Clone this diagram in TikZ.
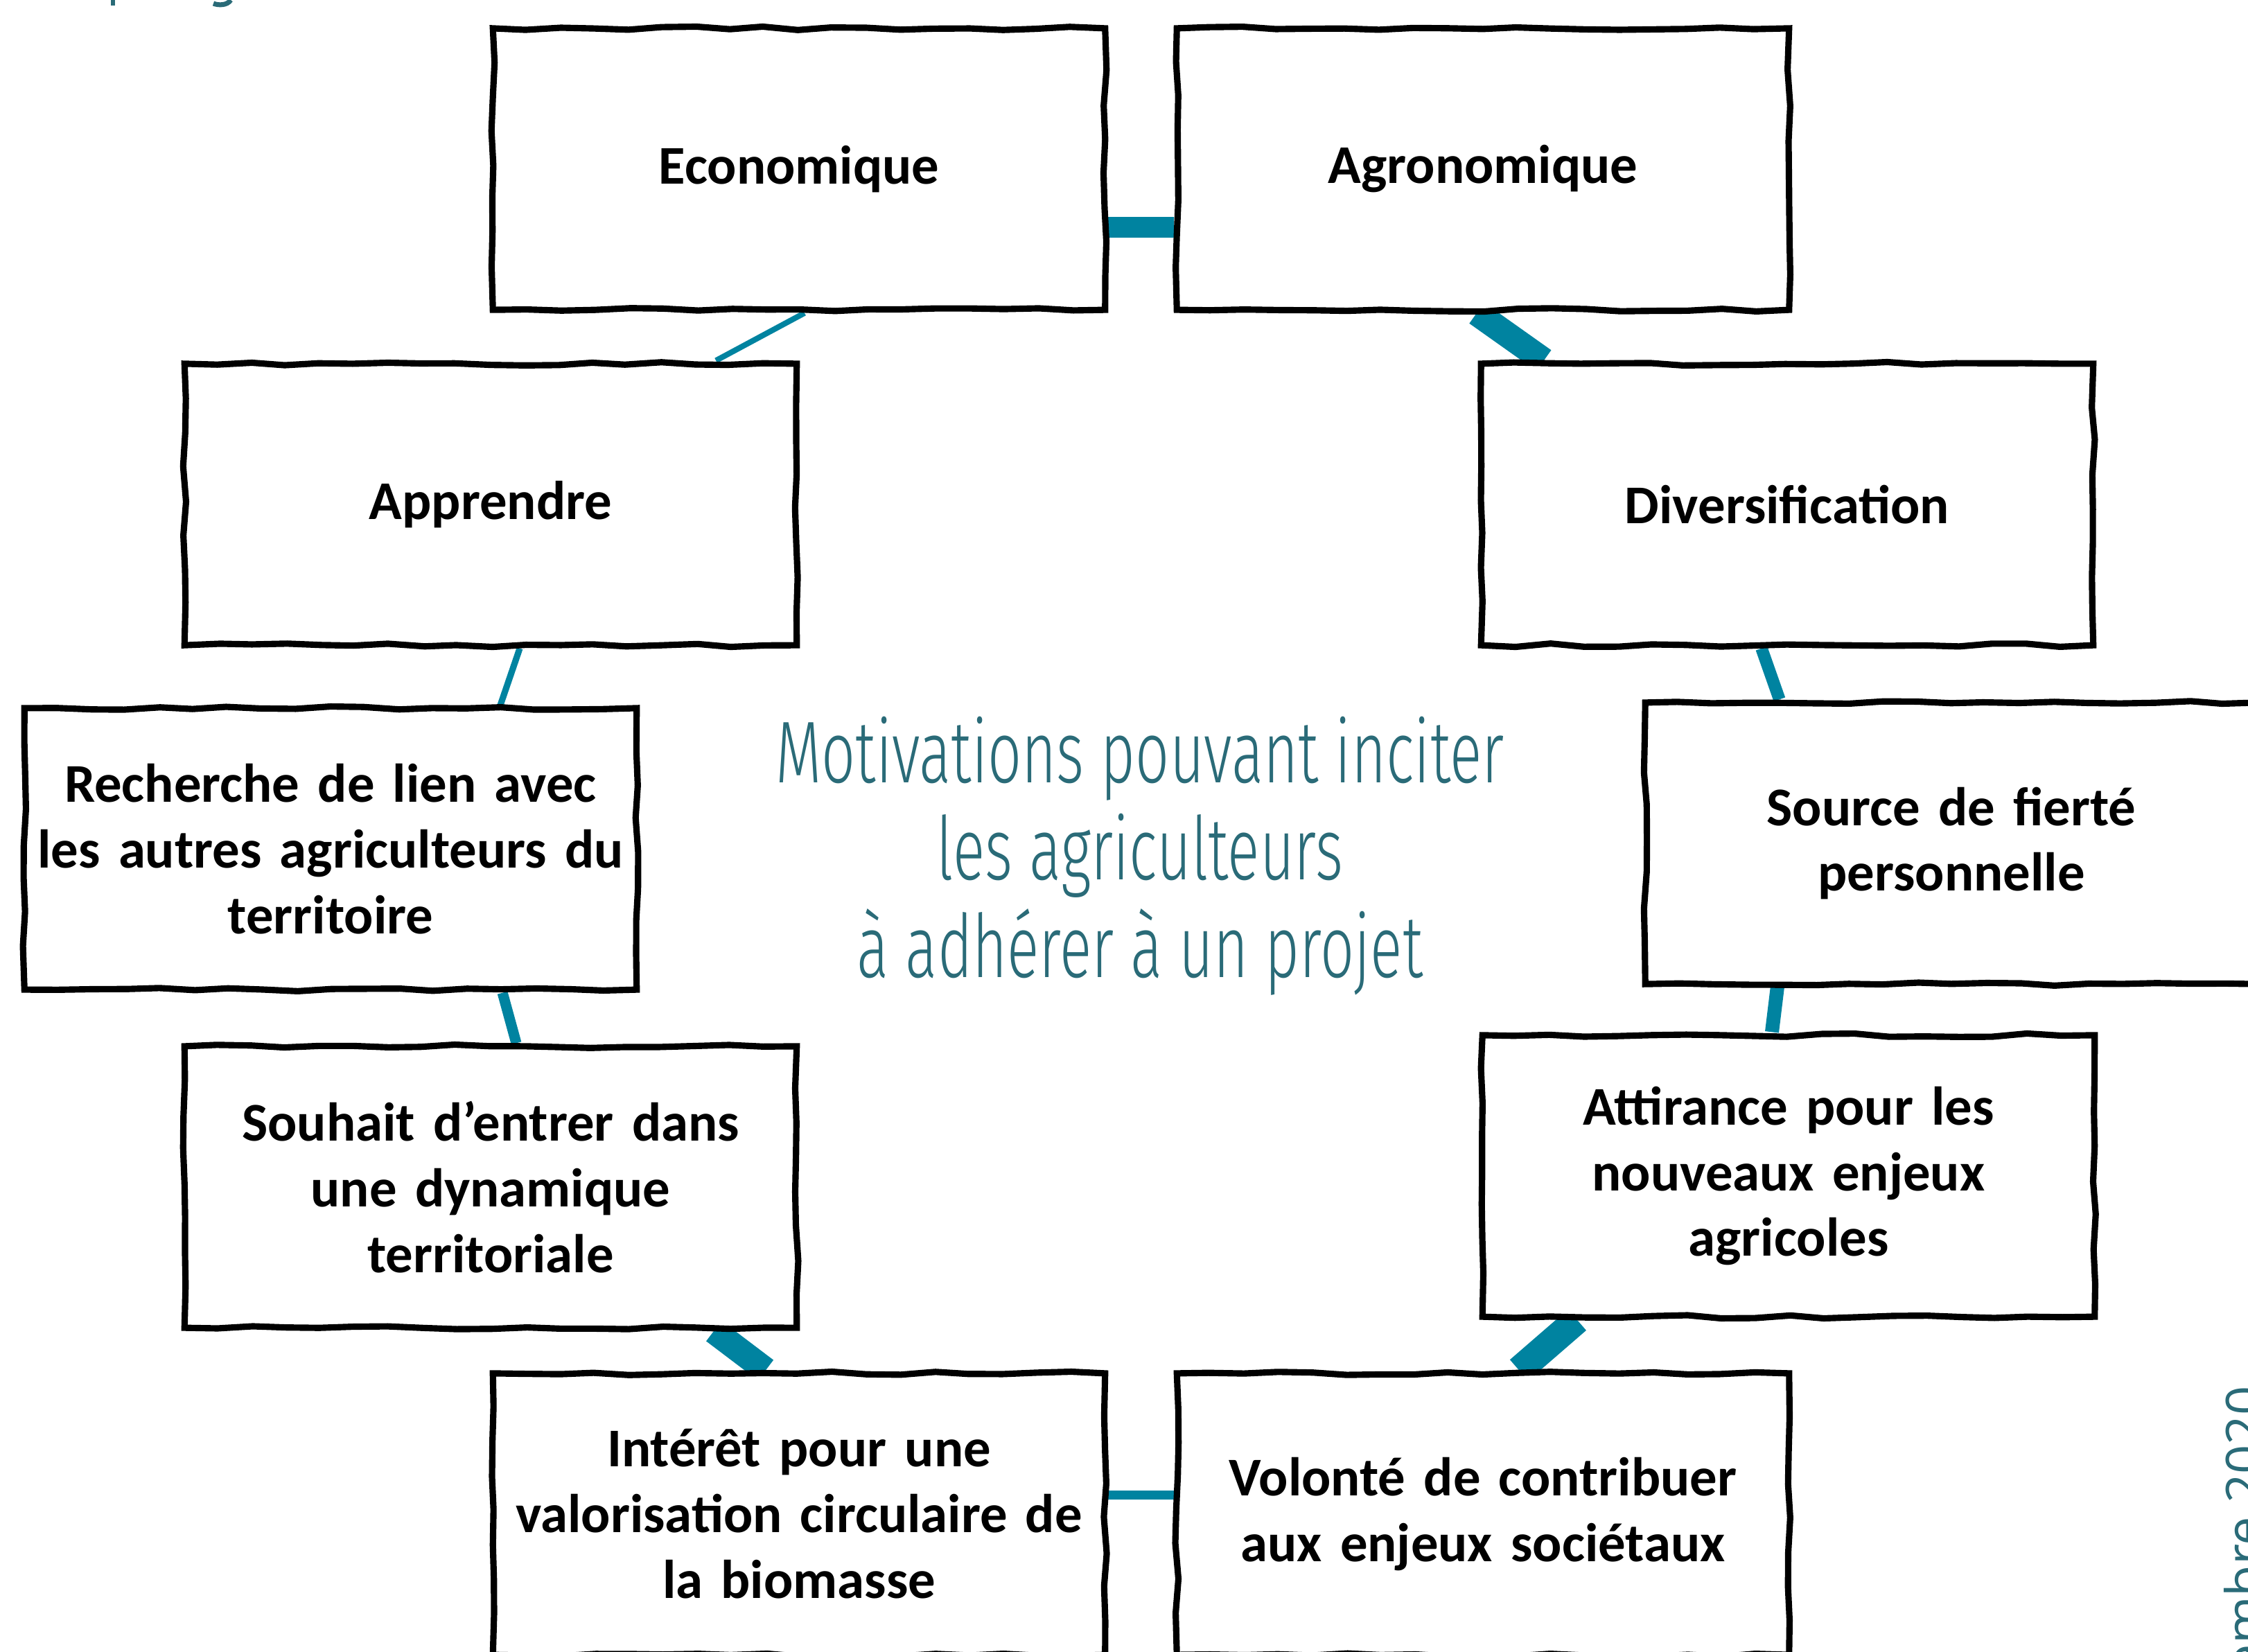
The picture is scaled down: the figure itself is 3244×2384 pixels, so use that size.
\documentclass[tikz,border=0pt]{standalone}
\usepackage{fontspec}
\setmainfont{Carlito}
\newfontfamily\titlefont[FakeStretch=0.68]{Fira Sans Light}
\newfontfamily\datefont{Open Sans}
\usetikzlibrary{backgrounds,decorations.pathmorphing}
\definecolor{linkc}{HTML}{0083A0}
\definecolor{titlec}{HTML}{2A6B78}
\tikzset{
  box/.style={draw=black, line width=2.6pt, fill=white, minimum width=8.83cm, minimum height=4.06cm,
    inner sep=0pt, align=center, text width=8.6cm,
    font=\fontsize{22.4}{27}\selectfont\bfseries,
    decorate, decoration={random steps, segment length=14pt, amplitude=0.7pt}},
  link/.style={draw=linkc},
  ttl/.style={text=titlec, anchor=base, inner sep=0pt, font=\titlefont\fontsize{36}{40}\selectfont}
}
\begin{document}
\begin{tikzpicture}[x=0.01cm,y=-0.01cm]
\pgfmathsetseed{7}
\useasboundingbox (0,0) rectangle (3244,2384);
\clip (0,0) rectangle (3244,2384);

\node[box] (eco) at (1153,244) {Economique};
\node[box] (agro) at (2140,244) {Agronomique};
\node[box] (appr) at (708,728) {Apprendre};
\node[box] (div) at (2579,728) {Diversification};
\node[box] (rech) at (477,1225) {Recherche de lien avec\\les autres agriculteurs du\\territoire};
\node[box] (source) at (2816,1217) {Source de fierté\\personnelle};
\node[box] (souhait) at (708,1713) {Souhait d’entrer dans\\une dynamique\\territoriale};
\node[box] (attir) at (2581,1697) {Attirance pour les\\nouveaux enjeux\\agricoles};
\node[box] (interet) at (1153,2185) {Intérêt pour une\\valorisation circulaire de\\la biomasse};
\node[box] (volonte) at (2140,2185) {Volonté de contribuer\\aux enjeux sociétaux};

\begin{pgfonlayer}{background}
\draw[link, line width=8.5pt] ([yshift=-0.84cm]eco.east) -- ([yshift=-0.84cm]agro.west);
\draw[link, line width=2.3pt] ([xshift=0.08cm]eco.south) -- ([xshift=3.25cm]appr.north);
\draw[link, line width=10.5pt] ([xshift=-0.09cm]agro.south) -- ([xshift=-3.51cm]div.north);
\draw[link, line width=2.6pt] ([xshift=0.42cm]appr.south) -- ([xshift=2.45cm]rech.north);
\draw[link, line width=5pt] ([xshift=-0.37cm]div.south) -- ([xshift=-2.48cm]source.north);
\draw[link, line width=4.3pt] ([xshift=2.48cm]rech.south) -- ([xshift=0.37cm]souhait.north);
\draw[link, line width=5.7pt] ([xshift=-2.51cm]source.south) -- ([xshift=-0.24cm]attir.north);
\draw[link, line width=10.5pt] ([xshift=3.22cm]souhait.south) -- ([xshift=-0.48cm]interet.north);
\draw[link, line width=11.4pt] ([xshift=-3.05cm]attir.south) -- ([xshift=0.52cm]volonte.north);
\draw[link, line width=3.7pt] ([yshift=0.28cm]interet.east) -- ([yshift=0.28cm]volonte.west);
\end{pgfonlayer}

\node[ttl] (t1) at (1645,1129) {Motivations pouvant inciter};
\node[ttl] (t2) at (1645,1269) {les agriculteurs};
\node[ttl] (t3) at (1645,1410) {à adhérer à un projet};

\fill[titlec] (160,0) rectangle (166,8);
\draw[titlec, line width=2pt] (333,0) .. controls (328,8) and (315,8) .. (308,5);

\node[rotate=90, anchor=base east, inner sep=0pt, text=titlec, font=\datefont\fontsize{21}{24}\selectfont] (date) at (3265,2000) {Novembre 2020};
\end{tikzpicture}
\end{document}
